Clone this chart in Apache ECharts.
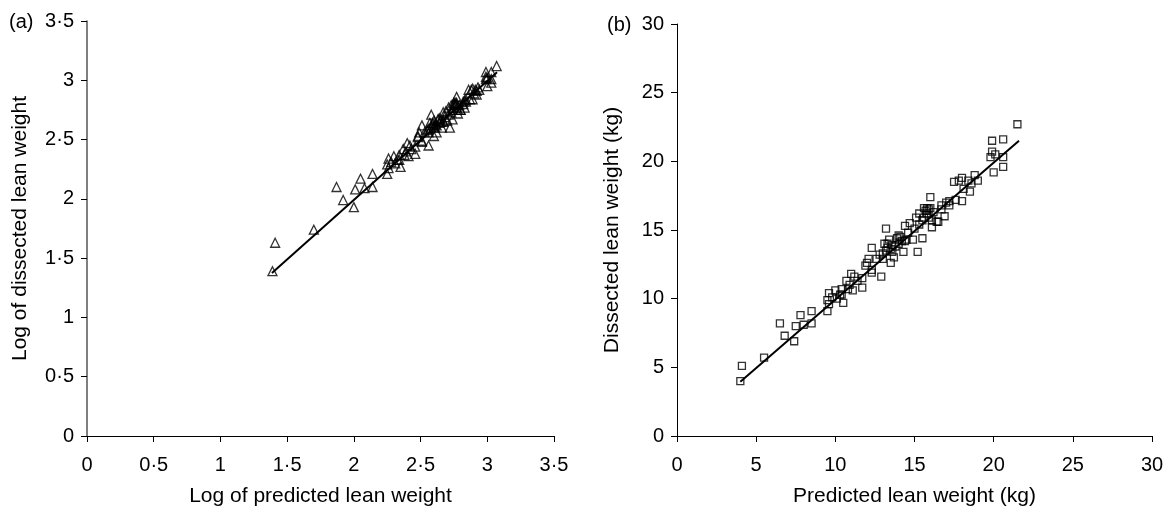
<!DOCTYPE html>
<html>
<head>
<meta charset="utf-8">
<script src="https://cdn.jsdelivr.net/npm/echarts@6/dist/echarts.min.js"></script>
<style>
  html, body { margin: 0; padding: 0; background: #fff; }
  #chart { width: 1167px; height: 508px; }
</style>
</head>
<body>
<div id="chart"></div>
<script>
// panel (b): predicted vs dissected lean weight (kg)
const predB = [4.0, 4.1, 5.5, 6.5, 6.8, 7.4, 7.5, 7.8, 8.0, 8.5, 8.5, 9.5, 9.5, 9.6, 9.6, 9.8, 10.0, 10.1, 10.3, 10.4,
  10.4, 10.5, 10.7, 10.8, 11.0, 11.1, 11.2, 11.7, 11.7, 11.9, 12.0, 12.3, 12.3, 12.3, 12.1, 12.9, 13.0, 13.1, 13.0, 13.2,
  13.2, 13.3, 13.4, 13.5, 13.5, 13.6, 13.7, 13.8, 13.9, 14.0, 14.0, 14.2, 14.3, 14.4, 14.4, 14.5, 14.7, 14.9, 15.0, 15.1,
  15.2, 15.3, 15.3, 15.5, 15.5, 15.6, 15.7, 15.8, 15.9, 16.0, 16.1, 16.1, 16.4, 16.5, 16.7, 16.7, 16.9, 17.0, 17.2, 17.2,
  17.6, 18.0, 17.5, 17.8, 18.5, 18.6, 18.1, 18.4, 18.0, 18.8, 19.0, 19.9, 20.6, 19.9, 20.1, 19.8, 20.6, 20.0, 20.6, 21.5,
  13.3, 13.6, 14.1, 14.6, 15.6, 15.8, 16.2, 12.6, 12.8, 11.4, 10.9, 15.9, 16.0];
const dissB = [4.0, 5.1, 5.7, 8.2, 7.3, 6.9, 8.0, 8.8, 8.1, 9.1, 8.2, 9.9, 9.1, 10.4, 9.6, 10.1, 10.6, 10.0, 10.3, 10.7,
  10.3, 9.7, 11.3, 10.7, 11.8, 10.6, 11.6, 10.8, 11.5, 12.4, 12.6, 12.1, 13.7, 11.9, 12.9, 11.6, 12.9, 14.0, 13.3, 15.1,
  13.5, 13.7, 14.3, 12.6, 13.6, 13.4, 13.0, 13.8, 14.4, 14.6, 14.0, 14.2, 13.4, 15.3, 14.2, 14.3, 15.5, 14.3, 15.1, 15.9,
  13.4, 16.2, 15.4, 15.7, 14.4, 16.6, 16.4, 16.6, 15.9, 17.4, 15.2, 15.7, 15.6, 15.6, 16.5, 16.8, 16.0, 17.0, 17.1, 16.8,
  17.2, 17.1, 18.5, 18.6, 17.8, 18.4, 18.0, 18.6, 18.8, 19.0, 18.6, 21.5, 21.6, 20.7, 20.5, 20.3, 20.3, 19.2, 19.6, 22.7,
  14.0, 13.9, 14.5, 14.8, 15.9, 16.2, 16.3, 12.9, 13.2, 11.3, 11.0, 16.5, 16.6];

// panel (a): the same animals on log scale
const predA = [1.39, 1.41, 1.70, 1.87, 1.92, 2.00, 2.01, 2.05, 2.08, 2.14, 2.14, 2.25, 2.25, 2.26, 2.26, 2.28, 2.30, 2.31, 2.33, 2.34,
  2.34, 2.35, 2.37, 2.38, 2.40, 2.41, 2.42, 2.46, 2.46, 2.48, 2.48, 2.51, 2.51, 2.51, 2.49, 2.56, 2.56, 2.57, 2.56, 2.58,
  2.58, 2.59, 2.60, 2.60, 2.60, 2.61, 2.62, 2.62, 2.63, 2.64, 2.64, 2.65, 2.66, 2.67, 2.67, 2.67, 2.69, 2.70, 2.71, 2.71,
  2.72, 2.73, 2.73, 2.74, 2.74, 2.75, 2.75, 2.76, 2.77, 2.77, 2.78, 2.78, 2.80, 2.80, 2.82, 2.82, 2.83, 2.83, 2.84, 2.84,
  2.87, 2.89, 2.86, 2.88, 2.92, 2.92, 2.90, 2.91, 2.89, 2.93, 2.94, 2.99, 3.03, 2.99, 3.00, 2.99, 3.03, 3.00, 3.03, 3.07,
  2.59, 2.61, 2.65, 2.68, 2.75, 2.76, 2.79, 2.53, 2.55, 2.43, 2.39, 2.77, 2.77];
const dissA = [1.39, 1.63, 1.74, 2.10, 1.99, 1.93, 2.08, 2.17, 2.09, 2.21, 2.10, 2.29, 2.21, 2.34, 2.26, 2.31, 2.36, 2.30, 2.33, 2.37,
  2.33, 2.27, 2.42, 2.37, 2.47, 2.36, 2.45, 2.38, 2.44, 2.52, 2.53, 2.49, 2.62, 2.48, 2.56, 2.45, 2.56, 2.64, 2.59, 2.71,
  2.60, 2.62, 2.66, 2.53, 2.61, 2.60, 2.56, 2.62, 2.67, 2.68, 2.64, 2.65, 2.60, 2.73, 2.65, 2.66, 2.74, 2.66, 2.71, 2.77,
  2.60, 2.79, 2.73, 2.75, 2.67, 2.81, 2.80, 2.81, 2.77, 2.86, 2.72, 2.75, 2.75, 2.75, 2.80, 2.82, 2.77, 2.83, 2.84, 2.82,
  2.84, 2.84, 2.92, 2.92, 2.88, 2.91, 2.89, 2.92, 2.93, 2.94, 2.92, 3.07, 3.07, 3.03, 3.02, 3.01, 3.01, 2.95, 2.98, 3.12,
  2.64, 2.63, 2.67, 2.69, 2.77, 2.79, 2.79, 2.56, 2.58, 2.42, 2.40, 2.80, 2.81];

// fitted lines (end points)
const fitAX = [1.386, 3.073];
const fitAY = [1.374, 3.068];
const fitBX = [4.0, 21.6];
const fitBY = [3.95, 21.5];

// tick labels
const ticksA = ['0', '0·5', '1', '1·5', '2', '2·5', '3', '3·5'];
const ticksB = ['0', '5', '10', '15', '20', '25', '30'];

const zip = (xs, ys) => xs.map((x, i) => [x, ys[i]]);

const FONT = "'Liberation Sans', Arial, sans-serif";
const axisLine = { show: true, lineStyle: { color: '#000', width: 1 } };
const tick = { show: true, length: 6, lineStyle: { color: '#000', width: 1 } };
const lblX = (ticks, step) => ({
  color: '#000', fontSize: 20, fontFamily: FONT, margin: 19,
  formatter: (v) => ticks[Math.round(v / step)]
});
const lblY = (ticks, step) => ({
  color: '#000', fontSize: 20, fontFamily: FONT, margin: 13,
  formatter: (v) => ticks[Math.round(v / step)]
});
const nameStyle = { color: '#000', fontSize: 21, fontFamily: FONT };

const chart = echarts.init(document.getElementById('chart'));
chart.setOption({
  animation: false,
  backgroundColor: '#fff',
  grid: [
    { left: 87, top: 21, width: 467, height: 415, outerBoundsMode: 'none', containLabel: false },
    { left: 677, top: 24, width: 475, height: 412, outerBoundsMode: 'none', containLabel: false }
  ],
  xAxis: [
    {
      gridIndex: 0, type: 'value', min: 0, max: 3.5, interval: 0.5,
      name: 'Log of predicted lean weight', nameLocation: 'middle', nameGap: 50, nameTextStyle: nameStyle,
      axisLine, axisTick: tick, axisLabel: lblX(ticksA, 0.5), splitLine: { show: false }
    },
    {
      gridIndex: 1, type: 'value', min: 0, max: 30, interval: 5,
      name: 'Predicted lean weight (kg)', nameLocation: 'middle', nameGap: 50, nameTextStyle: nameStyle,
      axisLine, axisTick: tick, axisLabel: lblX(ticksB, 5), splitLine: { show: false }
    }
  ],
  yAxis: [
    {
      gridIndex: 0, type: 'value', min: 0, max: 3.5, interval: 0.5,
      name: 'Log of dissected lean weight', nameLocation: 'middle', nameGap: 56, nameTextStyle: nameStyle,
      axisLine: { show: true, lineStyle: { color: '#555', width: 1.5 } }, axisTick: tick,
      axisLabel: lblY(ticksA, 0.5), splitLine: { show: false }
    },
    {
      gridIndex: 1, type: 'value', min: 0, max: 30, interval: 5,
      name: 'Dissected lean weight (kg)', nameLocation: 'middle', nameGap: 54, nameTextStyle: nameStyle,
      axisLine, axisTick: tick, axisLabel: lblY(ticksB, 5), splitLine: { show: false }
    }
  ],
  graphic: [
    { type: 'text', left: 9, top: 12, style: { text: '(a)', fontSize: 20, fontFamily: FONT, fill: '#000' } },
    { type: 'text', left: 607, top: 15, style: { text: '(b)', fontSize: 20, fontFamily: FONT, fill: '#000' } }
  ],
  series: [
    {
      type: 'line', xAxisIndex: 0, yAxisIndex: 0, data: zip(fitAX, fitAY),
      symbol: 'none', lineStyle: { color: '#000', width: 2 }, z: 3
    },
    {
      type: 'scatter', xAxisIndex: 0, yAxisIndex: 0, data: zip(predA, dissA),
      symbol: 'triangle', symbolSize: 9,
      itemStyle: { color: 'rgba(255,255,255,0)', borderColor: '#000', borderWidth: 1.3 }, z: 2
    },
    {
      type: 'line', xAxisIndex: 1, yAxisIndex: 1, data: zip(fitBX, fitBY),
      symbol: 'none', lineStyle: { color: '#000', width: 2 }, z: 3
    },
    {
      type: 'scatter', xAxisIndex: 1, yAxisIndex: 1, data: zip(predB, dissB),
      symbol: 'rect', symbolSize: 7,
      itemStyle: { color: 'rgba(255,255,255,0)', borderColor: '#000', borderWidth: 1.3 }, z: 2
    }
  ]
});
</script>
</body>
</html>
